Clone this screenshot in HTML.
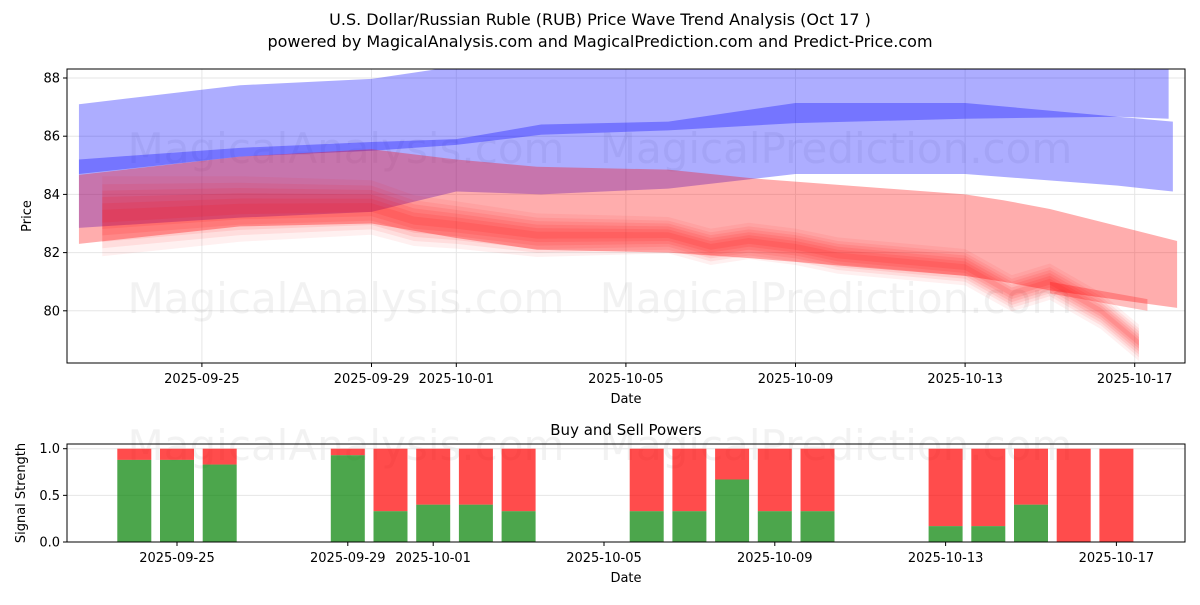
<!DOCTYPE html>
<html><head><meta charset="utf-8"><style>
body{margin:0;background:#fff;font-family:"Liberation Sans","DejaVu Sans",sans-serif}
svg text{font-family:"DejaVu Sans","Liberation Sans",sans-serif}
</style></head><body>
<svg id="c" width="1200" height="600" viewBox="0 0 1200 600" xmlns="http://www.w3.org/2000/svg">
<rect width="1200" height="600" fill="#fff"/>
<text x="600" y="25" text-anchor="middle" font-size="16">U.S. Dollar/Russian Ruble (RUB) Price Wave Trend Analysis (Oct 17 )</text>
<text x="600" y="47" text-anchor="middle" font-size="16">powered by MagicalAnalysis.com and MagicalPrediction.com and Predict-Price.com</text>
<g id="topg"></g>
<g id="botg"></g>
</svg>
<script>
// ---- price chart data (x = days since 2025-09-22) ----
const bandADays=[0.1,3.9,7,9,11,14,17,21,24.6,25.8];
const bandAUpper=[87.1,87.75,87.97,88.4,88.6,88.7,88.8,88.8,88.8,88.8];
const bandALower=[84.7,85.3,85.5,85.7,86.05,86.2,86.45,86.6,86.67,86.6];
const bandBDays=[0.1,3.9,7,9,11,14,17,21,24.6,25.9];
const bandBUpper=[85.2,85.6,85.8,85.9,86.4,86.5,87.14,87.14,86.67,86.5];
const bandBLower=[82.85,83.2,83.4,84.1,84.0,84.2,84.7,84.7,84.3,84.1];
const bandCDays=[0.1,3.9,7,9,10.9,14,16,21,21.9,23,26];
const bandCUpper=[84.67,85.3,85.55,85.2,84.95,84.85,84.55,84.0,83.8,83.5,82.4];
const bandCLower=[82.3,82.9,83.0,82.5,82.1,82.0,81.8,81.2,81.0,80.7,80.1];
const thinDays=[23,25.3];
const thinUpper=[81.0,80.4];
const thinLower=[80.6,80.0];
const denseDays=[0.65,3.9,7,8,9,10.9,14,15,15.9,17,18,21,22.1,23,24.2,25.1];
const denseCenter=[83.25,83.5,83.55,83.1,82.95,82.6,82.6,82.2,82.4,82.2,81.9,81.5,80.6,81.0,80.0,78.9];
const denseHalf=[1.1,0.9,0.75,0.7,0.65,0.6,0.5,0.5,0.5,0.5,0.5,0.5,0.5,0.5,0.5,0.5];
const priceTicks=[80,82,84,86,88];
const topTickDays=[3,7,9,13,17,21,25];
const topTickLabels=["2025-09-25","2025-09-29","2025-10-01","2025-10-05","2025-10-09","2025-10-13","2025-10-17"];
// ---- power chart data ----
const barDays=[2,3,4,7,8,9,10,11,14,15,16,17,18,21,22,23,24,25];
const buyPower=[0.88,0.88,0.83,0.93,0.33,0.4,0.4,0.33,0.33,0.33,0.67,0.33,0.33,0.17,0.17,0.4,0,0];
const powerTicks=[0,0.5,1.0];
const botTickDays=[3,7,9,13,17,21,25];

const NS="http://www.w3.org/2000/svg";
function mk(p,t,a){const e=document.createElementNS(NS,t);for(const k in a)e.setAttribute(k,a[k]);p.appendChild(e);return e;}
const L=67,R=1185,T=69,B=363;
const xT=d=>74.7+42.4*d;
const yT=v=>78+(88-v)*29.1;
const topG=document.getElementById('topg');
const defs=mk(topG,'defs',{});
const cp=mk(defs,'clipPath',{id:'cp'});mk(cp,'rect',{x:L,y:T,width:R-L,height:B-T});
topTickDays.forEach(d=>{const g=mk(topG,'line',{x1:xT(d),x2:xT(d),y1:T,y2:B,stroke:'#e6e6e6','stroke-width':1});

});
priceTicks.forEach(v=>{const g=mk(topG,'line',{x1:L,x2:R,y1:yT(v),y2:yT(v),stroke:'#e6e6e6','stroke-width':1});

});
[[346,163,'MagicalAnalysis.com'],[836,163,'MagicalPrediction.com'],[346,313,'MagicalAnalysis.com'],[836,313,'MagicalPrediction.com'],[346,460,'MagicalAnalysis.com'],[836,460,'MagicalPrediction.com']].forEach(w=>{
const tx=mk(topG,'text',{x:w[0],y:w[1],'text-anchor':'middle','font-size':42,fill:'#999','fill-opacity':0.13});tx.textContent=w[2];

});
const pg=mk(topG,'g',{'clip-path':'url(#cp)'});
function band(days,up,lo,color,op,name){
 let pts=days.map((d,i)=>xT(d)+','+yT(up[i]));
 for(let i=days.length-1;i>=0;i--)pts.push(xT(days[i])+','+yT(lo[i]));
 const p=mk(pg,'polygon',{points:pts.join(' '),fill:color,'fill-opacity':op});
 
 
}
band(bandADays,bandAUpper,bandALower,'#0000ff',0.32,'blue-band-upper');
band(bandBDays,bandBUpper,bandBLower,'#0000ff',0.32,'blue-band-lower');
band(bandCDays,bandCUpper,bandCLower,'#ff0000',0.32,'red-band-wide');
band(thinDays,thinUpper,thinLower,'#ff0000',0.25,'red-band-thin');
[[1.25,0.06],[1.0,0.08],[0.8,0.09],[0.6,0.1],[0.4,0.1],[0.2,0.11]].forEach(s=>{
 band(denseDays,denseCenter.map((c,i)=>c+denseHalf[i]*s[0]),denseCenter.map((c,i)=>c-denseHalf[i]*s[0]),'#ff0000',s[1],'red-band-dense');
});
mk(topG,'rect',{x:L,y:T,width:R-L,height:B-T,fill:'none',stroke:'#000','stroke-width':1});
priceTicks.forEach(v=>{mk(topG,'line',{x1:L-4,x2:L,y1:yT(v),y2:yT(v),stroke:'#000'});
const tx=mk(topG,'text',{x:L-7,y:yT(v)+4.5,'text-anchor':'end','font-size':13});tx.textContent=v;

});
topTickDays.forEach((d,i)=>{mk(topG,'line',{x1:xT(d),x2:xT(d),y1:B,y2:B+4,stroke:'#000'});
const tx=mk(topG,'text',{x:xT(d),y:B+20,'text-anchor':'middle','font-size':13});tx.textContent=topTickLabels[i];

});
let lbl=mk(topG,'text',{x:626,y:403,'text-anchor':'middle','font-size':13});lbl.textContent='Date';


lbl=mk(topG,'text',{x:31,y:216,'text-anchor':'middle','font-size':13,transform:'rotate(-90 31 216)'});lbl.textContent='Price';



// ---- bottom chart ----
const botG=document.getElementById('botg');
const BT=444,BB=542;
const xB=d=>48.9+42.7*d;
const yB=v=>542-93.3*v;
powerTicks.forEach(v=>{const g=mk(botG,'line',{x1:L,x2:R,y1:yB(v),y2:yB(v),stroke:'#e6e6e6'});

});
barDays.forEach((d,i)=>{
 const w=34,x=xB(d)-w/2;
 const r=mk(botG,'rect',{x:x,y:yB(1),width:w,height:yB(buyPower[i])-yB(1),fill:'#ff0000','fill-opacity':0.7});
 
 
 const g=mk(botG,'rect',{x:x,y:yB(buyPower[i]),width:w,height:yB(0)-yB(buyPower[i]),fill:'#008000','fill-opacity':0.7});
 
 
});
mk(botG,'rect',{x:L,y:BT,width:R-L,height:BB-BT,fill:'none',stroke:'#000'});
powerTicks.forEach(v=>{mk(botG,'line',{x1:L-4,x2:L,y1:yB(v),y2:yB(v),stroke:'#000'});
const tx=mk(botG,'text',{x:L-7,y:yB(v)+4.5,'text-anchor':'end','font-size':13});tx.textContent=v.toFixed(1);

});
botTickDays.forEach((d,i)=>{mk(botG,'line',{x1:xB(d),x2:xB(d),y1:BB,y2:BB+4,stroke:'#000'});
const tx=mk(botG,'text',{x:xB(d),y:BB+20,'text-anchor':'middle','font-size':13});tx.textContent=topTickLabels[i];

});
lbl=mk(botG,'text',{x:626,y:582,'text-anchor':'middle','font-size':13});lbl.textContent='Date';


lbl=mk(botG,'text',{x:626,y:435,'text-anchor':'middle','font-size':15});lbl.textContent='Buy and Sell Powers';


lbl=mk(botG,'text',{x:25,y:493,'text-anchor':'middle','font-size':13,transform:'rotate(-90 25 493)'});lbl.textContent='Signal Strength';


</script>
</body></html>
